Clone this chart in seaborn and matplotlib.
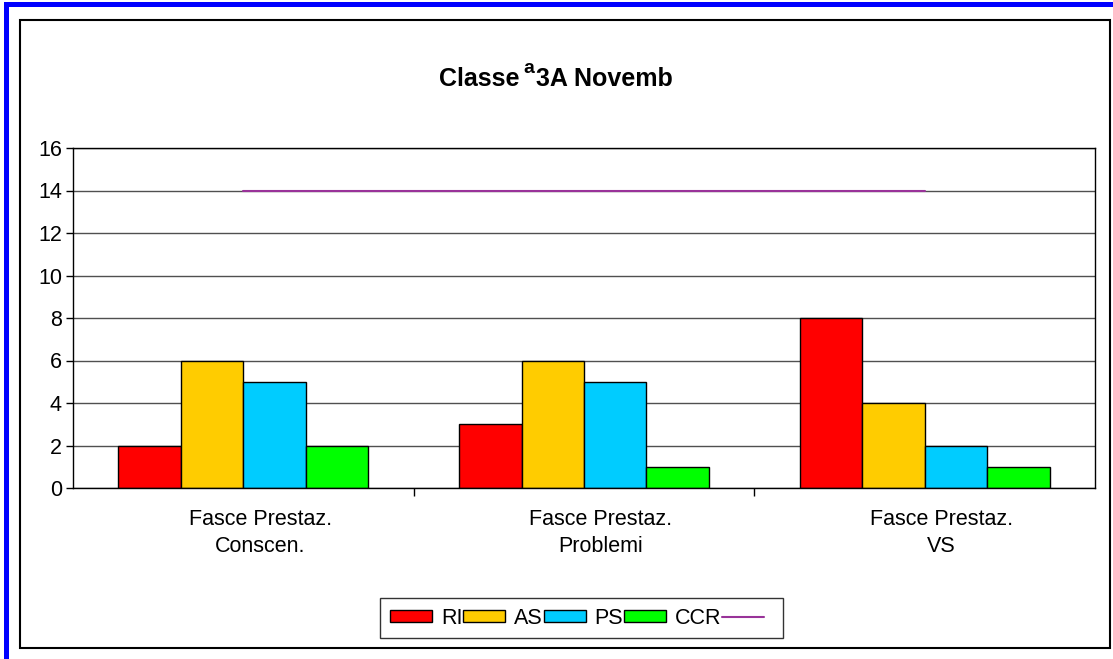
import numpy as np
import pandas as pd
import seaborn as sns
import matplotlib.pyplot as plt
from matplotlib.patches import Rectangle, Patch
from matplotlib.lines import Line2D
from matplotlib.transforms import ScaledTranslation

# data
categories = ["Fasce Prestaz.\nConscen.", "Fasce Prestaz.\nProblemi", "Fasce Prestaz.\nVS"]
series = ["RI", "AS", "PS", "CCR"]
ri = [2, 3, 8]
as_ = [6, 6, 4]
ps = [5, 5, 2]
ccr = [2, 1, 1]
line_vals = [14, 14, 14]  # extra series, its label is cut off in the legend
colors = ["#FF0000", "#FFCC00", "#00CCFF", "#00FF00"]
line_color = "#993399"

sns.set_style("white")
plt.rcParams["font.family"] = ["Liberation Sans", "DejaVu Sans"]
plt.rcParams["text.color"] = "black"
plt.rcParams["xtick.color"] = "black"
plt.rcParams["ytick.color"] = "black"
plt.rcParams["axes.labelcolor"] = "black"

W, H = 1113, 659
fig = plt.figure(figsize=(W / 100, H / 100), dpi=100)

# blue outer border (left + top only) and black chart frame
fig.patches.append(Rectangle((4 / W, 0), 5 / W, 1 - 2 / H, transform=fig.transFigure,
                             facecolor="#0000FF", edgecolor="none"))
fig.patches.append(Rectangle((4 / W, 1 - 7 / H), 1, 5 / H, transform=fig.transFigure,
                             facecolor="#0000FF", edgecolor="none"))
fig.patches.append(Rectangle((20.5 / W, 1 - 648 / H), (1110 - 20.5) / W, (648 - 19.5) / H,
                             transform=fig.transFigure, fill=False, edgecolor="black", lw=1.5))

ax = fig.add_axes([73 / W, 1 - 488 / H, (1095 - 73) / W, (488 - 148) / H])

df = pd.DataFrame({
    "category": categories * 4,
    "series": [s for s in series for _ in categories],
    "value": ri + as_ + ps + ccr,
})

ax.yaxis.grid(True, color="#505050", lw=1)
ax.set_axisbelow(True)

sns.barplot(data=df, x="category", y="value", hue="series", palette=colors,
            width=0.733, saturation=1, edgecolor="black", linewidth=1, ax=ax, legend=False)
sns.lineplot(x=np.arange(len(categories)), y=line_vals, color=line_color, lw=1.5, ax=ax)

ax.set_ylim(0, 16)
ax.set_yticks(range(0, 17, 2))
ax.set_xlim(-0.5, 2.5)
ax.set_xlabel("")
ax.set_ylabel("")
for sp in ax.spines.values():
    sp.set_color("black")
    sp.set_linewidth(1)

ax.tick_params(axis="y", labelsize=15.5, length=5, width=1, color="black", pad=3, left=True)
ax.tick_params(axis="x", which="major", labelsize=15.5, length=0, pad=15)
ax.set_xticks([0.5, 1.5], minor=True)
ax.tick_params(axis="x", which="minor", length=6, width=1, color="black", bottom=True)
for lab in ax.get_xticklabels():
    lab.set_linespacing(1.4)
    lab.set_transform(lab.get_transform() + ScaledTranslation(0.17, 0, fig.dpi_scale_trans))

# title (as it appears, truncated with the raised "a")
fig.text(439 / W, 1 - 86 / H, "Classe", fontsize=18, fontweight="bold", va="baseline", ha="left")
fig.text(523 / W, 1 - 73 / H, "a", fontsize=14, fontweight="bold", va="baseline", ha="left")
fig.text(536 / W, 1 - 86 / H, "3A Novemb", fontsize=18, fontweight="bold", va="baseline", ha="left")

handles = [Patch(facecolor=c, edgecolor="black", lw=1) for c in colors]
handles.append(Line2D([], [], color=line_color, lw=1.5))
leg = fig.legend(handles, series + [""], loc="center", ncol=5,
                 bbox_to_anchor=(581.5 / W, 1 - 618 / H), fontsize=15.5,
                 handlelength=1.95, handleheight=0.5, handletextpad=0.4,
                 columnspacing=0.05, borderpad=0.45, fancybox=False, frameon=True)
leg.get_frame().set_edgecolor("black")
leg.get_frame().set_linewidth(1)

fig.savefig("out.png", dpi=100)
